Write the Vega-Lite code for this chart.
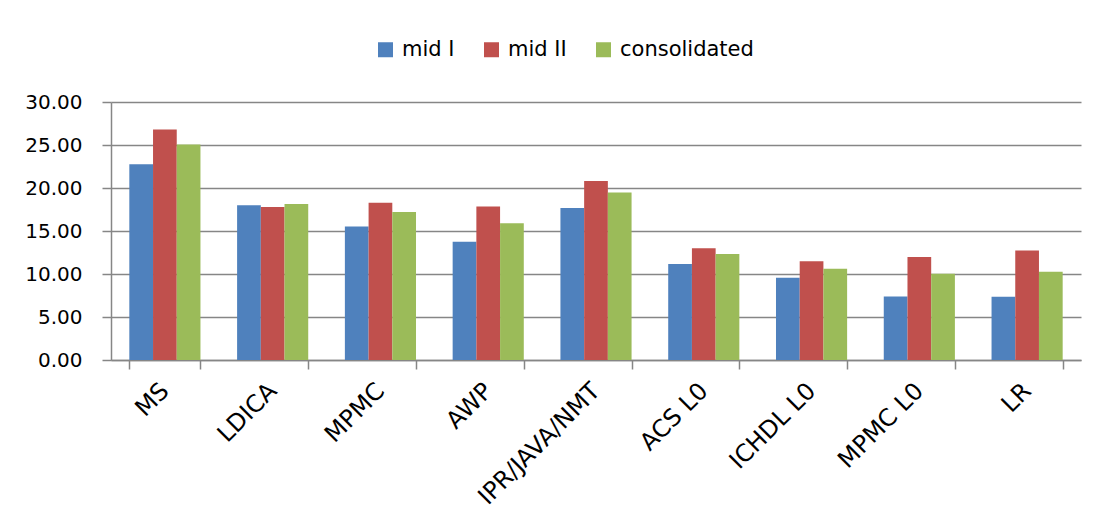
{
  "$schema": "https://vega.github.io/schema/vega-lite/v6.json",
  "width": 970,
  "height": 258,
  "autosize": {"type": "none"},
  "padding": {"left": 111, "top": 102, "right": 21, "bottom": 169},
  "background": "white",
  "config": {
    "view": {"stroke": null},
    "font": "DejaVu Sans",
    "axis": {"labelFont": "DejaVu Sans", "labelColor": "#000000"}
  },
  "data": {
    "values": [
      {"subject": "MS", "series": "mid I", "value": 22.76},
      {"subject": "MS", "series": "mid II", "value": 26.81},
      {"subject": "MS", "series": "consolidated", "value": 25.06},
      {"subject": "LDICA", "series": "mid I", "value": 17.98},
      {"subject": "LDICA", "series": "mid II", "value": 17.78},
      {"subject": "LDICA", "series": "consolidated", "value": 18.13},
      {"subject": "MPMC", "series": "mid I", "value": 15.53},
      {"subject": "MPMC", "series": "mid II", "value": 18.29},
      {"subject": "MPMC", "series": "consolidated", "value": 17.2},
      {"subject": "AWP", "series": "mid I", "value": 13.74},
      {"subject": "AWP", "series": "mid II", "value": 17.86},
      {"subject": "AWP", "series": "consolidated", "value": 15.91},
      {"subject": "IPR/JAVA/NMT", "series": "mid I", "value": 17.67},
      {"subject": "IPR/JAVA/NMT", "series": "mid II", "value": 20.82},
      {"subject": "IPR/JAVA/NMT", "series": "consolidated", "value": 19.49},
      {"subject": "ACS L0", "series": "mid I", "value": 11.17},
      {"subject": "ACS L0", "series": "mid II", "value": 13.0},
      {"subject": "ACS L0", "series": "consolidated", "value": 12.33},
      {"subject": "ICHDL L0", "series": "mid I", "value": 9.57},
      {"subject": "ICHDL L0", "series": "mid II", "value": 11.48},
      {"subject": "ICHDL L0", "series": "consolidated", "value": 10.62},
      {"subject": "MPMC L0", "series": "mid I", "value": 7.39},
      {"subject": "MPMC L0", "series": "mid II", "value": 11.98},
      {"subject": "MPMC L0", "series": "consolidated", "value": 10.04},
      {"subject": "LR", "series": "mid I", "value": 7.35},
      {"subject": "LR", "series": "mid II", "value": 12.72},
      {"subject": "LR", "series": "consolidated", "value": 10.27}
    ]
  },
  "mark": {"type": "bar"},
  "encoding": {
    "x": {
      "field": "subject",
      "type": "nominal",
      "sort": null,
      "title": null,
      "scale": {"paddingInner": 0.34, "paddingOuter": 0.17},
      "axis": {
        "tickBand": "extent",
        "labelAngle": -45,
        "labelAlign": "right",
        "labelBaseline": "middle",
        "labelFontSize": 24,
        "labelPadding": 18,
        "tickSize": 9,
        "tickColor": "#868686",
        "tickWidth": 1.5,
        "domainColor": "#868686",
        "domainWidth": 1.5,
        "grid": false
      }
    },
    "xOffset": {
      "field": "series",
      "type": "nominal",
      "sort": ["mid I", "mid II", "consolidated"],
      "scale": {"paddingInner": 0, "paddingOuter": 0}
    },
    "y": {
      "field": "value",
      "type": "quantitative",
      "title": null,
      "scale": {"domain": [0, 30], "nice": false},
      "axis": {
        "values": [0, 5, 10, 15, 20, 25, 30],
        "format": ".2f",
        "labelFontSize": 20,
        "labelPadding": 20,
        "tickSize": 9,
        "tickColor": "#868686",
        "tickWidth": 1.5,
        "domainColor": "#868686",
        "domainWidth": 1.5,
        "grid": true,
        "gridColor": "#868686",
        "gridWidth": 1.5
      }
    },
    "color": {
      "field": "series",
      "type": "nominal",
      "sort": ["mid I", "mid II", "consolidated"],
      "scale": {
        "domain": ["mid I", "mid II", "consolidated"],
        "range": ["#4F81BD", "#C0504D", "#9BBB59"]
      },
      "legend": {
        "title": null,
        "orient": "none",
        "direction": "horizontal",
        "legendX": 264,
        "legendY": -63,
        "symbolType": "square",
        "symbolSize": 225,
        "symbolStrokeWidth": 0,
        "labelFontSize": 21,
        "labelFont": "DejaVu Sans",
        "labelColor": "#000000",
        "labelOffset": 6,
        "columnPadding": 26
      }
    }
  }
}
